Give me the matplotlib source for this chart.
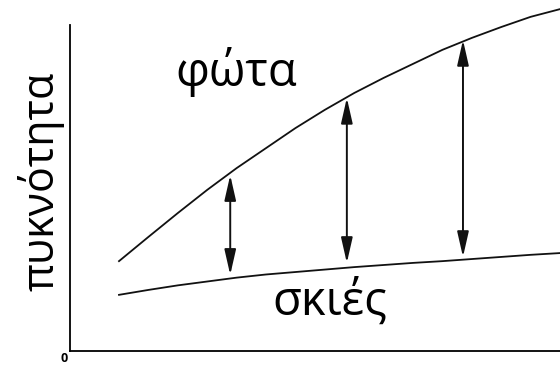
import matplotlib
matplotlib.use('Agg')
import matplotlib.pyplot as plt

# values (x and density in arbitrary units)
x = [1.0, 1.6, 2.2, 2.8, 3.4, 4.0, 4.6, 5.2, 5.8, 6.4, 7.0, 7.6, 8.2, 8.8, 9.4, 10.0]
lights = [2.56, 3.25, 3.93, 4.59, 5.21, 5.78, 6.35, 6.87, 7.35, 7.78, 8.18, 8.58,
          8.92, 9.23, 9.52, 9.74]
shadows = [1.60, 1.74, 1.87, 1.98, 2.09, 2.18, 2.25, 2.32, 2.39, 2.45, 2.51, 2.56,
           2.62, 2.68, 2.74, 2.79]

# the three double arrows between the curves
arrow_x = [3.27, 5.65, 8.02]
arrow_top = [5.01, 7.21, 8.86]
arrow_bottom = [2.17, 2.51, 2.68]

labels = {'lights': 'φώτα', 'shadows': 'σκιές', 'ylabel': 'πυκνότητα'}

plt.rcParams['font.family'] = ['Open Sans', 'DejaVu Sans']

fig = plt.figure(figsize=(5.6, 3.65), dpi=100)
ax = fig.add_axes([70 / 560, 14 / 365, 490 / 560, 351 / 365])
ax.set_xlim(0, 10)
ax.set_ylim(0, 10)

ax.plot(x, lights, color='#111111', lw=1.3, clip_on=False)
ax.plot(x, shadows, color='#111111', lw=1.3, clip_on=False)

for xa, top, bot in zip(arrow_x, arrow_top, arrow_bottom):
    ax.annotate('', xy=(xa, top), xytext=(xa, bot),
                arrowprops=dict(arrowstyle='<|-|>,head_length=1.1,head_width=0.25',
                                color='#111111', lw=1.4, mutation_scale=14,
                                shrinkA=0, shrinkB=0))

ax.text(3.39, 7.95, labels['lights'], fontsize=34, ha='center', va='center')
ax.text(5.31, 1.40, labels['shadows'], fontsize=34, ha='center', va='center')
ax.text(-0.12, -0.2, '0', fontsize=9, fontweight='bold', ha='center', va='center')

fig.text(41 / 560, 1 - 181 / 365, labels['ylabel'], fontsize=31, rotation=90,
         ha='center', va='center')

for side in ['top', 'right']:
    ax.spines[side].set_visible(False)
ax.spines['left'].set_bounds(0, 9.3)
ax.spines['left'].set_linewidth(1.3)
ax.spines['bottom'].set_linewidth(1.3)
ax.set_xticks([])
ax.set_yticks([])
ax.patch.set_alpha(0)

plt.savefig('out.png', dpi=100)
